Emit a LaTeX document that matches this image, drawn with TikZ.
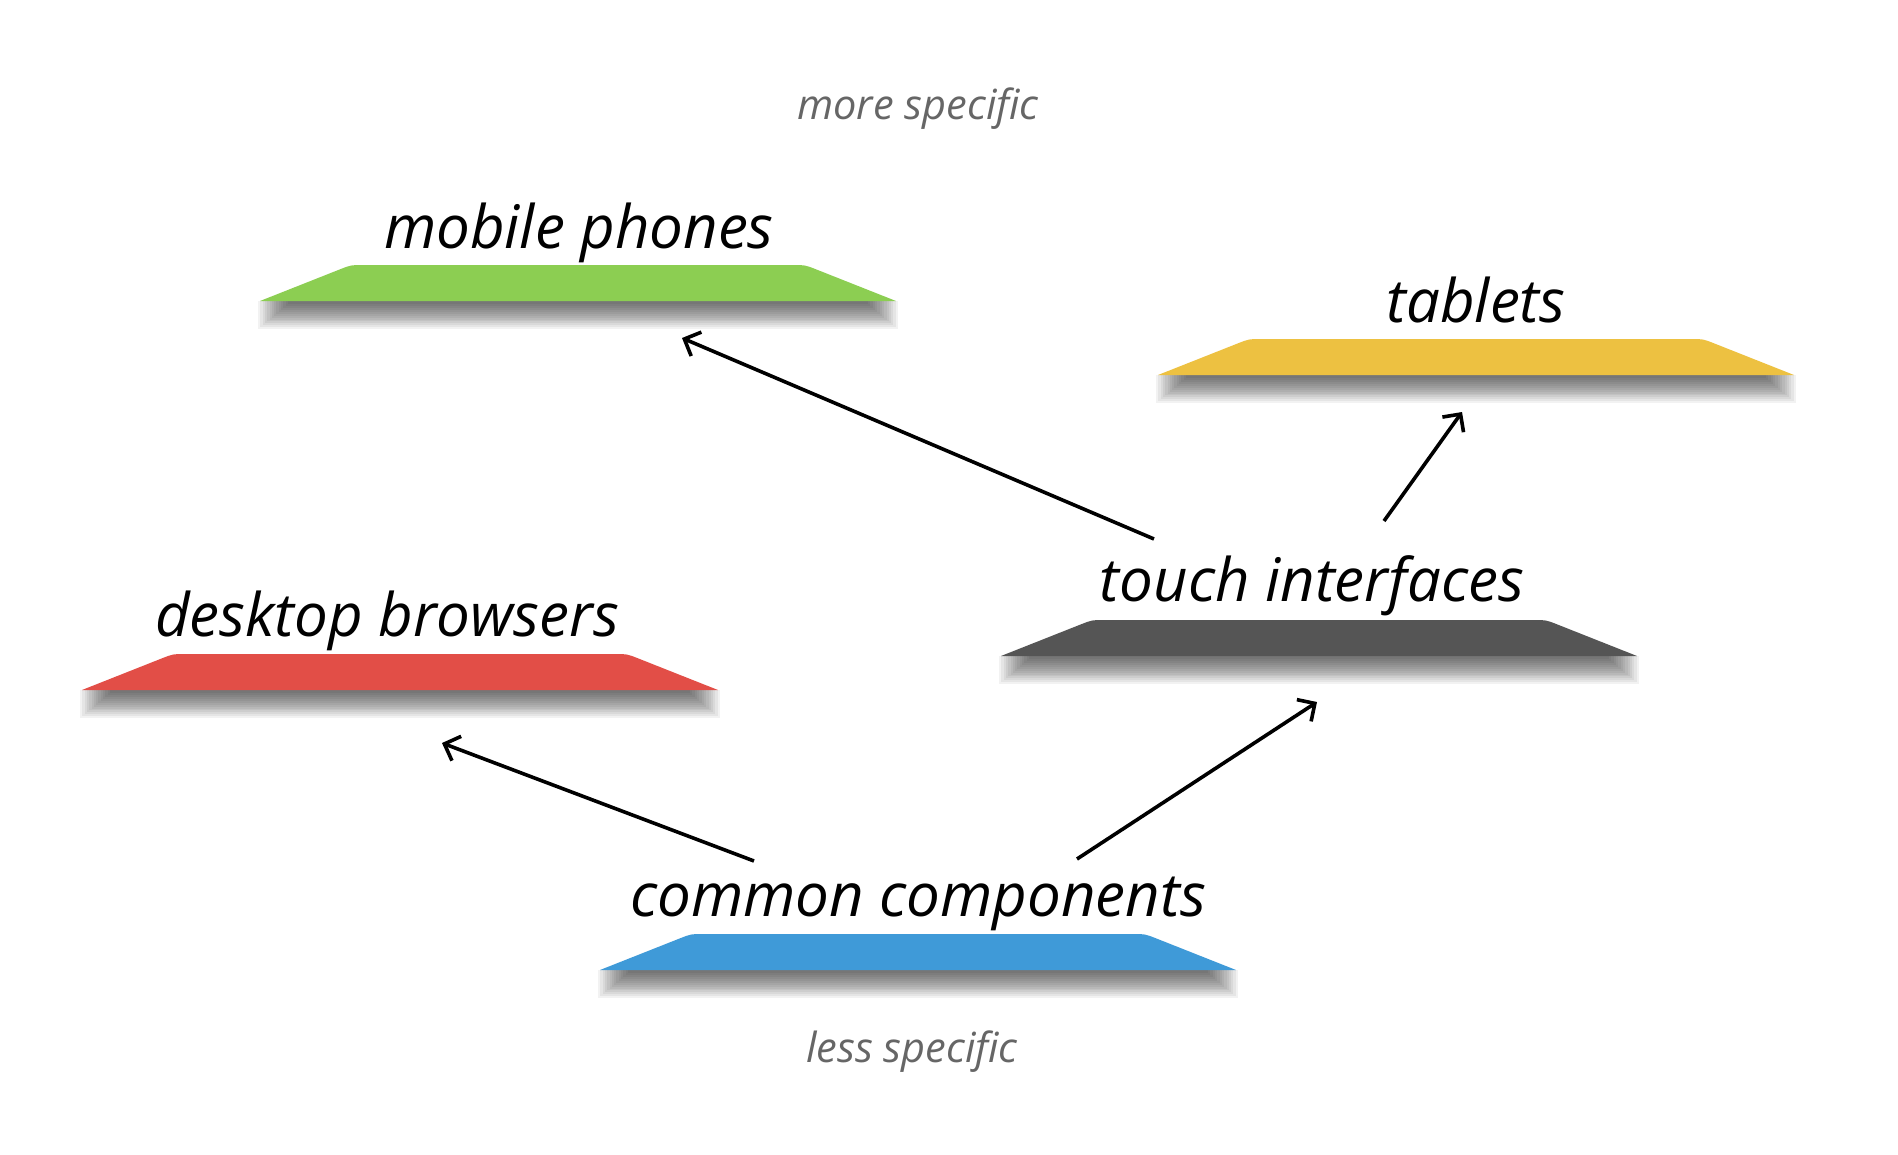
\documentclass[tikz,border=0pt]{standalone}
\usepackage{fontspec}
\setmainfont{Open Sans}
\usetikzlibrary{arrows.meta}
\definecolor{pgreen}{RGB}{140,206,82}
\definecolor{pyellow}{RGB}{237,193,65}
\definecolor{pdark}{RGB}{85,85,85}
\definecolor{pred}{RGB}{226,78,71}
\definecolor{pblue}{RGB}{63,154,216}
\definecolor{hint}{RGB}{102,102,102}
\newcommand\plat[4]{%
  \pgfmathsetmacro\pR{#2+636}%
  \foreach \k in {0,...,13}{\fill[black,opacity=0.05] ({#2-2+2.3*\k},#3) rectangle ({\pR+2-2.3*\k},{#3+28-1.9*\k});}
  \fill[#4] (#2,#3) -- ({#2+79.8},{#3-31.6}) .. controls ({#2+91},{#3-36}) .. ({#2+103},{#3-36})
     -- ({\pR-103},{#3-36}) .. controls ({\pR-91},{#3-36}) .. ({\pR-79.8},{#3-31.6}) -- (\pR,#3) -- cycle;
  \coordinate (#1) at ({#2+318},{#3-18});
}
\tikzset{
  lbl/.style={anchor=base,inner sep=0pt,font=\fontsize{60}{72}\selectfont\itshape,text=black},
  hintlbl/.style={anchor=base,inner sep=0pt,font=\fontsize{41.5}{50}\selectfont\itshape,text=hint},
  arr/.style={line width=3.6pt,-{Straight Barb[length=13pt,width=26pt,line width=3.6pt]}}
}
\begin{document}
\begin{tikzpicture}[x=1pt,y=-1pt]
\fill[white] (0,0) rectangle (1898,1154);
\useasboundingbox (0,0) rectangle (1898,1154);
\plat{pmobile}{260}{301}{pgreen}
\plat{ptablets}{1158}{375}{pyellow}
\plat{ptouch}{1001}{656}{pdark}
\plat{pdesktop}{82}{690}{pred}
\plat{pcommon}{600}{970}{pblue}
\node[lbl] (tmobile) at (579,248) {mobile phones};
\node[lbl] (ttablets) at (1476,322) {tablets};
\node[lbl] (ttouch) at (1312,601) {touch interfaces};
\node[lbl] (tdesktop) at (387,636) {desktop browsers};
\node[lbl] (tcommon) at (918,916) {common components};
\node[hintlbl] (more) at (918,119) {more specific};
\node[hintlbl] (less) at (912,1062) {less specific};
\coordinate (a1s) at (1154,539); \coordinate (a1e) at (682,338);
\coordinate (a2s) at (1384,521); \coordinate (a2e) at (1462,412);
\coordinate (a3s) at (754,861);  \coordinate (a3e) at (442,743);
\coordinate (a4s) at (1077,859); \coordinate (a4e) at (1317,702);
\draw[arr] (a1s) -- (a1e);
\draw[arr] (a2s) -- (a2e);
\draw[arr] (a3s) -- (a3e);
\draw[arr] (a4s) -- (a4e);
\end{tikzpicture}
\end{document}
